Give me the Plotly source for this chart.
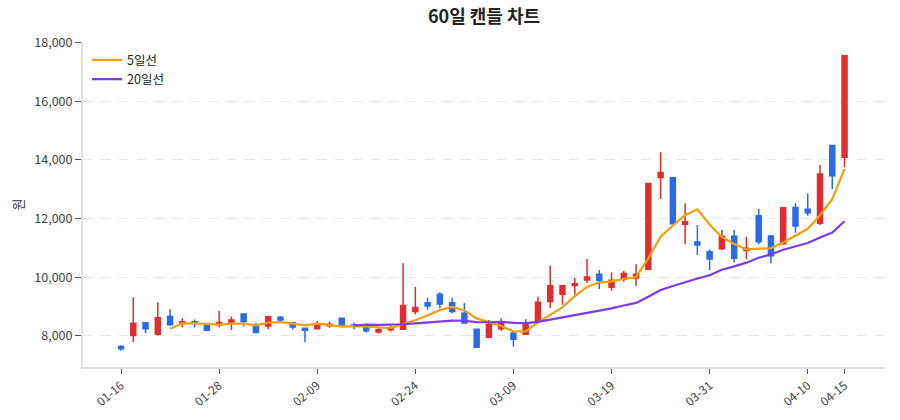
import plotly.graph_objects as go

dates = [
    "01-16", "01-19", "01-20", "01-21", "01-22", "01-23", "01-26", "01-27", "01-28", "01-29",
    "01-30", "02-02", "02-03", "02-04", "02-05", "02-06", "02-09", "02-10", "02-11", "02-12",
    "02-13", "02-19", "02-20", "02-23", "02-24", "02-25", "02-26", "02-27", "03-03", "03-04",
    "03-05", "03-06", "03-09", "03-10", "03-11", "03-12", "03-13", "03-16", "03-17", "03-18",
    "03-19", "03-20", "03-23", "03-24", "03-25", "03-26", "03-27", "03-30", "03-31", "04-01",
    "04-02", "04-03", "04-06", "04-07", "04-08", "04-09", "04-10", "04-13", "04-14", "04-15",
]

open_ = [
    7640, 8010, 8450, 8060, 8660, 8420, 8480, 8400, 8380, 8430,
    8750, 8370, 8340, 8640, 8450, 8260, 8240, 8350, 8600, 8370,
    8320, 8130, 8210, 8230, 8830, 9130, 9420, 9130, 8770, 8230,
    7950, 8240, 8090, 8060, 8490, 9170, 9420, 9720, 9910, 10100,
    9660, 9930, 9970, 10270, 13400, 13390, 11810, 11200, 10870, 10970,
    11400, 10910, 12100, 11410, 11140, 12380, 12320, 11840, 14490, 14090,
]
high = [
    7680, 9320, 8470, 9150, 8910, 8600, 8560, 8410, 8850, 8660,
    8770, 8440, 8690, 8680, 8470, 8270, 8510, 8500, 8620, 8450,
    8330, 8260, 8350, 10480, 9680, 9300, 9490, 9300, 9110, 8240,
    8540, 8600, 8170, 8570, 9340, 10400, 9740, 9970, 10620, 10250,
    10170, 10210, 10450, 13200, 14260, 13400, 12520, 11780, 10950, 11610,
    11610, 11380, 12330, 11440, 12400, 12520, 12860, 13830, 14500, 17550,
]
low = [
    7490, 7790, 8090, 8010, 8350, 8290, 8290, 8170, 8290, 8200,
    8320, 8100, 8230, 8510, 8220, 7780, 8220, 8280, 8300, 8230,
    8110, 8080, 8150, 8210, 8740, 8890, 8940, 8770, 8430, 7600,
    7940, 8180, 7640, 8050, 8480, 8950, 9060, 9400, 9800, 9600,
    9540, 9850, 9700, 10270, 12670, 11810, 11130, 10760, 10250, 10930,
    10500, 10620, 11130, 10480, 11110, 11520, 12100, 11780, 13000, 13750,
]
close = [
    7560, 8430, 8240, 8620, 8380, 8480, 8430, 8190, 8460, 8540,
    8490, 8120, 8650, 8540, 8300, 8190, 8400, 8400, 8320, 8340,
    8180, 8210, 8270, 9040, 8970, 9020, 9090, 8830, 8440, 7610,
    8400, 8420, 7890, 8430, 9150, 9710, 9710, 9780, 10010, 9890,
    9900, 10130, 10100, 13200, 13570, 11820, 11890, 11100, 10620, 11400,
    10650, 10980, 11210, 10730, 12370, 11750, 12200, 13520, 13460, 17550,
]

# moving-average values (None where the line is absent)
ma5 = [None] * 4 + [
    8246, 8430, 8430, 8420, 8388, 8420, 8422, 8360, 8452, 8468,
    8420, 8360, 8416, 8366, 8322, 8330, 8328, 8290, 8264, 8408,
    8534, 8702, 8878, 8990, 8870, 8598, 8474, 8340, 8152, 8150,
    8458, 8720, 8978, 9356, 9672, 9820, 9858, 9942, 10006, 10644,
    11380, 11764, 12116, 12316, 11800, 11366, 11132, 10950, 10972, 10994,
    11188, 11408, 11652, 12114, 12660, 13696,
]
ma20 = [None] * 19 + [
    8354, 8385, 8374, 8376, 8397, 8426, 8453, 8486, 8518, 8517,
    8471, 8466, 8481, 8443, 8438, 8480, 8556, 8622, 8691, 8775,
    8853, 8939, 9035, 9126, 9334, 9564, 9704, 9844, 9958, 10067,
    10256, 10369, 10497, 10663, 10778, 10939, 11041, 11166, 11353, 11525,
    11908,
]

tick_dates = ["01-16", "01-28", "02-09", "02-24", "03-09", "03-19", "03-31", "04-10", "04-15"]
y_ticks = [8000, 10000, 12000, 14000, 16000, 18000]

UP = "#e02d2d"
DOWN = "#2b6be6"
ORANGE = "#f59e0b"
PURPLE = "#7c3aed"
FONT = "Noto Sans CJK KR"

fig = go.Figure()
fig.add_trace(go.Candlestick(
    x=dates, open=open_, high=high, low=low, close=close,
    increasing=dict(line=dict(color=UP, width=1.5), fillcolor=UP),
    decreasing=dict(line=dict(color=DOWN, width=1.5), fillcolor=DOWN),
    showlegend=False, hoverinfo="skip",
))
fig.add_trace(go.Scatter(x=dates, y=ma5, mode="lines", name="5일선",
                         line=dict(color=ORANGE, width=2.2)))
fig.add_trace(go.Scatter(x=dates, y=ma20, mode="lines", name="20일선",
                         line=dict(color=PURPLE, width=2.2)))

fig.update_layout(
    width=900, height=420,
    margin=dict(l=83, r=15, t=42, b=53, autoexpand=False),
    paper_bgcolor="white", plot_bgcolor="white",
    font=dict(family=FONT, size=12, color="#333"),
    title=dict(text="<b>60일 캔들 차트</b>", x=0.5, xref="paper", y=0.975, yref="container",
               xanchor="center", yanchor="top", font=dict(size=18, color="#222", family=FONT)),
    legend=dict(x=0.005, y=0.99, xanchor="left", yanchor="top", bgcolor="rgba(0,0,0,0)",
                font=dict(size=12.5, color="#222"), tracegroupgap=0),
    boxgap=0.42,
)
fig.update_xaxes(
    type="category", rangeslider=dict(visible=False),
    range=[-3.1, 62.3],
    tickmode="array", tickvals=tick_dates, ticktext=tick_dates,
    tickangle=-40, tickfont=dict(size=12, color="#3a3f4a"),
    ticks="outside", ticklen=5, tickcolor="#555", tickwidth=1,
    showgrid=False, showline=True, linecolor="#dde1e6", linewidth=2,
    zeroline=False, automargin=False,
)
fig.update_yaxes(
    range=[6940, 18020],
    tickmode="array", tickvals=y_ticks, tickformat=",d",
    tickfont=dict(size=12.5, color="#3a3f4a"),
    ticks="outside", ticklen=6, tickcolor="#555", tickwidth=1,
    showgrid=True, gridcolor="#e6e6e6", griddash="dash", gridwidth=1,
    showline=True, linecolor="#dde1e6", linewidth=2, zeroline=False,
    title=dict(text="원", font=dict(size=13, color="#333"), standoff=8),
    automargin=False,
)

fig.write_html("out.html")
